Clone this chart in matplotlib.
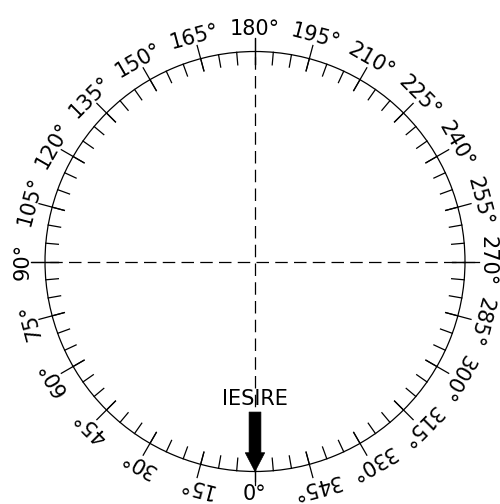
import numpy as np
import matplotlib
matplotlib.use("Agg")
import matplotlib.pyplot as plt

# compass data
minor_angles = np.arange(0, 360, 5)
major_angles = np.arange(0, 360, 15)
labels = ["%d°" % a for a in major_angles]
exit_angle = 0
exit_label = "IESIRE"

fig = plt.figure(figsize=(5, 5.04), dpi=100)
ax = fig.add_axes([0.09, 0.0645, 0.84, 0.8333], projection="polar")
ax.set_theta_zero_location("S")
ax.set_theta_direction(-1)
ax.set_ylim(0, 1)
ax.grid(False)
ax.set_xticks([])
ax.set_yticks([])
ax.spines["polar"].set_linewidth(0.9)

# minor ticks, inward from the circle
for a in minor_angles:
    t = np.radians(a)
    ax.plot([t, t], [0.94, 1.0], color="black", lw=0.9, clip_on=False)

# major ticks cross the circle, plus labels
for a, lab in zip(major_angles, labels):
    t = np.radians(a)
    ax.plot([t, t], [0.94, 1.065], color="black", lw=0.9, clip_on=False)
    rot = 0 if a == 0 else 180 - a
    ax.text(t, 1.108, lab, fontsize=15, rotation=rot, rotation_mode="anchor",
            ha="center", va="center", clip_on=False)

# dashed cross lines
r_end = 1.065
for a in [90, 180]:
    t1 = np.radians(a)
    t2 = np.radians(a + 180)
    ax.plot([t1, t1, t2, t2], [r_end, 0, 0, r_end], color="black", lw=0.9,
            dashes=(10, 5), clip_on=False)

# exit arrow
t = np.radians(exit_angle)
ax.annotate("", xy=(t, 1.0), xytext=(t, 0.717),
            arrowprops=dict(facecolor="black", edgecolor="black", lw=0.5,
                            width=8.5, headwidth=14, headlength=13.5, shrink=0))
ax.text(t, 0.655, exit_label, fontsize=15, ha="center", va="center")

fig.savefig("out.png", dpi=100)
